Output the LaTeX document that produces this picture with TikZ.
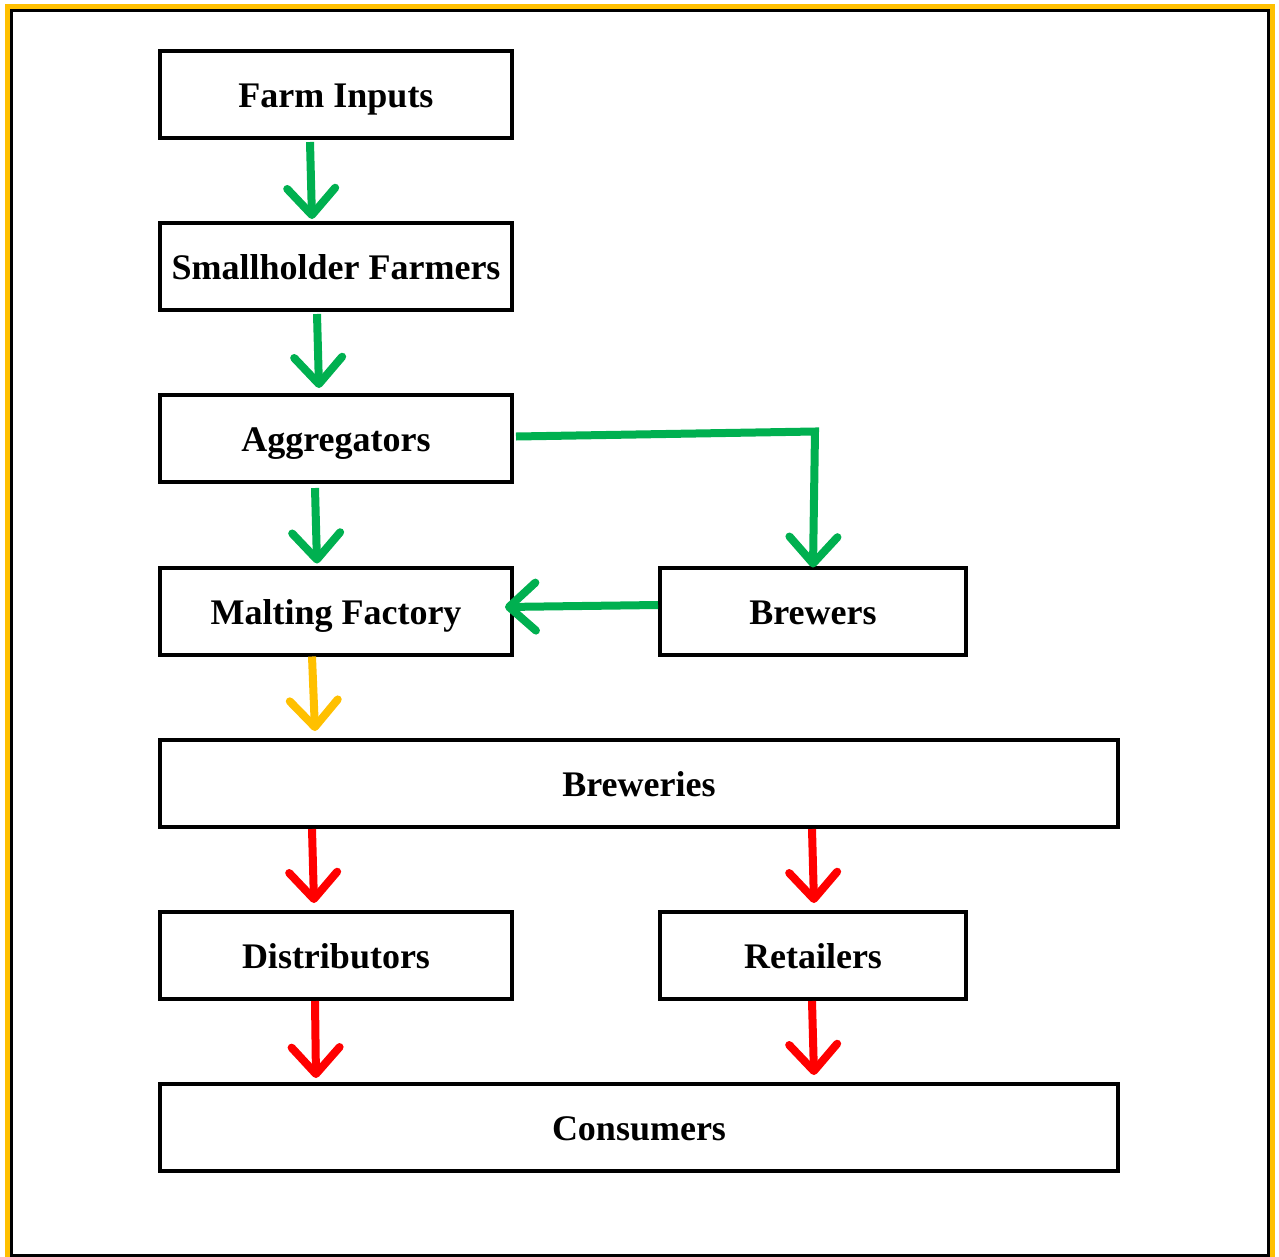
\documentclass[tikz,border=0pt]{standalone}
\usepackage{fontspec}
\setmainfont{Liberation Serif}
\usetikzlibrary{arrows.meta,calc}
\definecolor{ggreen}{HTML}{00B050}
\definecolor{gyellow}{HTML}{FFC000}
\definecolor{gred}{HTML}{FF0000}
\tikzset{
  box/.style={draw=black,line width=3pt,fill=white,minimum height=65.25pt,
    inner sep=0pt,text height=20pt,text depth=0pt,font=\fontsize{27}{30}\selectfont\bfseries},
  sbox/.style={box,minimum width=264pt},
  mbox/.style={box,minimum width=229.5pt},
  wbox/.style={box,minimum width=718.5pt},
  flow/.style={line width=6pt,-{Straight Barb[length=20pt,width=36pt,round,line width=6pt]}},
  gflow/.style={flow,draw=ggreen},
  yflow/.style={flow,draw=gyellow},
  rflow/.style={flow,draw=gred}
}
\begin{document}
\begin{tikzpicture}[x=0.75pt,y=-0.75pt]
\useasboundingbox (0,0) rectangle (1279,1257);
\fill[white] (0,0) rectangle (1279,1257);
\draw[gyellow,line width=3.8pt] (8,7) rectangle (1272,1265);
\draw[black,line width=2.2pt] (11.5,10.5) rectangle (1268.5,1255.5);

\node[sbox] (fi) at (336,94.5) {Farm Inputs};
\node[sbox] (sf) at (336,266.5) {Smallholder Farmers};
\node[sbox] (ag) at (336,438.5) {Aggregators};
\node[sbox] (mf) at (336,611) {Malting Factory};
\node[mbox] (bw) at (813,611) {Brewers};
\node[wbox] (be) at (639,783.5) {Breweries};
\node[sbox] (di) at (336,955.5) {Distributors};
\node[mbox] (re) at (813,955.5) {Retailers};
\node[wbox] (co) at (639,1127.5) {Consumers};

\draw[gflow] ($(fi.south)+(-26,2)$) -- ($(sf.north)+(-24,-2)$);
\draw[gflow] ($(sf.south)+(-19,2)$) -- ($(ag.north)+(-17,-5)$);
\draw[gflow] ($(ag.south)+(-21,4)$) -- ($(mf.north)+(-19,-2)$);
\draw[gflow] ($(ag.east)+(2,-2)$) -- ($(bw.north)+(2,-134)$) -- ($(bw.north)+(0,2)$);
\draw[gflow] ($(bw.west)+(0,-6)$) -- ($(mf.east)+(-9,-4)$);
\draw[yflow] ($(mf.south)+(-24,0)$) -- ($(be.north)+(-324,-7)$);
\draw[rflow] ($(be.south)+(-327,0)$) -- ($(di.north)+(-22,-7)$);
\draw[rflow] ($(be.south)+(173,0)$) -- ($(re.north)+(1,-7)$);
\draw[rflow] ($(di.south)+(-21,0)$) -- ($(co.north)+(-323,-4)$);
\draw[rflow] ($(re.south)+(-1,0)$) -- ($(co.north)+(175,-7)$);
\end{tikzpicture}
\end{document}
